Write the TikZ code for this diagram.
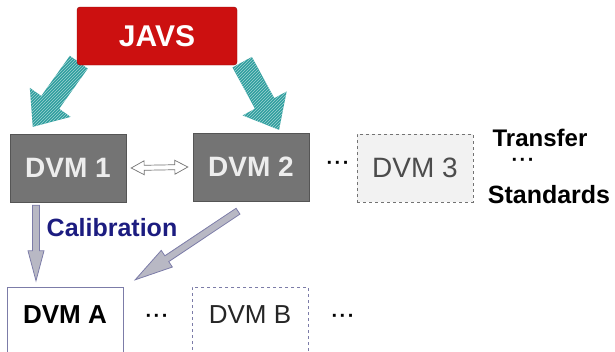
\documentclass[tikz,border=0pt]{standalone}
\usepackage{fontspec}
\setmainfont{Liberation Sans}
\usepackage{xcolor}
\usetikzlibrary{positioning,calc,patterns,backgrounds}

\definecolor{javsred}{HTML}{CC1010}
\definecolor{dvmgray}{HTML}{747474}
\definecolor{dvmedge}{HTML}{555555}
\definecolor{arrowteal}{HTML}{2E9E9E}
\definecolor{calfill}{HTML}{B8B8C4}
\definecolor{caledge}{HTML}{7C7CA8}
\definecolor{calblue}{HTML}{1C1C80}

% fat arrow: [style]{from}{to}{shaft half width}{head half width}{head length}
\newcommand{\fatarrow}[6][]{%
  \coordinate (fa-h) at ($(#3)!#6!(#2)$);
  \path[#1] ($(#2)!#4!90:(#3)$) -- ($(fa-h)!#4!90:(#3)$) -- ($(fa-h)!#5!90:(#3)$) -- (#3)
    -- ($(fa-h)!#5!-90:(#3)$) -- ($(fa-h)!#4!-90:(#3)$) -- ($(#2)!#4!-90:(#3)$) -- cycle;
}
% fat arrow with two heads
\newcommand{\fatdblarrow}[6][]{%
  \coordinate (fa-a) at ($(#2)!#6!(#3)$);
  \coordinate (fa-b) at ($(#3)!#6!(#2)$);
  \path[#1] (#2) -- ($(fa-a)!#5!90:(#3)$) -- ($(fa-a)!#4!90:(#3)$) -- ($(fa-b)!#4!90:(#3)$)
    -- ($(fa-b)!#5!90:(#3)$) -- (#3) -- ($(fa-b)!#5!-90:(#3)$) -- ($(fa-b)!#4!-90:(#3)$)
    -- ($(fa-a)!#4!-90:(#3)$) -- ($(fa-a)!#5!-90:(#3)$) -- cycle;
}
\newcommand{\mdots}{\char"00B7\kern1.5pt\char"00B7\kern1.5pt\char"00B7}

\tikzset{
  dvmbox/.style={minimum width=116pt, minimum height=68pt, inner sep=0pt},
  boldtext/.style={font=\fontsize{#1}{#1}\selectfont\bfseries},
  plaintext/.style={font=\fontsize{#1}{#1}\selectfont},
  dotstext/.style={font=\fontsize{20}{20}\selectfont\bfseries, inner sep=0pt},
  tealarrow/.style={preaction={fill=arrowteal}, pattern=north east lines, pattern color=white!55!arrowteal},
  calarrow/.style={fill=calfill, draw=caledge, line width=0.8pt, line join=miter},
}

\begin{document}
\begin{tikzpicture}[x=1pt, y=-1pt]
\useasboundingbox (0,0) rectangle (615,351);

% JAVS
\node[draw=javsred!70!black, fill=javsred, rounded corners=3pt, minimum width=160pt, minimum height=58pt, text=white, boldtext=30] (javs) at (157,36) {JAVS};

% Transfer standards
\node[dvmbox, draw=dvmedge, fill=dvmgray, text=white!93!black, boldtext=28] (dvm1) at (68,168) {DVM 1};
\node[dvmbox, draw=dvmedge, fill=dvmgray, text=white!93!black, boldtext=28] (dvm2) at (251,167) {DVM 2};
\node[dotstext] (dots1) at (338,165) {\mdots};
\node[dvmbox, draw=black!55, dashed, fill=black!5, text=black!70, plaintext=28] (dvm3) at (415,168) {DVM 3};
\node[boldtext=24] (transfer) at (540,138) {Transfer};
\node[dotstext] (tdots) at (523,162) {\mdots};
\node[boldtext=25] (standards) at (549,195) {Standards};

% Calibrated DVMs
\node[dvmbox, draw=caledge, fill=white, boldtext=26, text depth=12pt] (dvmA) at (65,321) {DVM A};
\node[dotstext] (dotsA) at (157,318) {\mdots};
\node[dvmbox, draw=caledge, dashed, fill=white, text=black!85, plaintext=26, text depth=12pt] (dvmB) at (250,321) {DVM B};
\node[dotstext] (dotsB) at (343,318) {\mdots};

\node[text=calblue, boldtext=25] (calib) at (112,228) {Calibration};

% Arrows
\coordinate (j1) at ([xshift=2pt, yshift=3pt]javs.south west);
\coordinate (t1) at ([xshift=23pt, yshift=7pt]dvm1.north west);
\coordinate (j2) at ([xshift=5pt, yshift=3pt]javs.south east);
\coordinate (t2) at ([xshift=28pt, yshift=3pt]dvm2.north);
\begin{scope}[on background layer]
\fatarrow[tealarrow]{j1}{t1}{11pt}{25pt}{30pt}
\fatarrow[tealarrow]{j2}{t2}{11pt}{25pt}{30pt}
\end{scope}

\coordinate (l1) at ([xshift=5pt]dvm1.east);
\coordinate (l2) at ([xshift=-5pt]dvm2.west);
\fatdblarrow[fill=white, draw=black!55, line width=0.7pt]{l1}{l2}{2.5pt}{7pt}{13pt}

\coordinate (c1) at ([xshift=-32pt, yshift=-3pt]dvm1.south);
\coordinate (c2) at ([xshift=-29pt, yshift=6pt]dvmA.north);
\fatarrow[calarrow]{c1}{c2}{3.5pt}{8pt}{30pt}

\coordinate (d1) at ([xshift=-13pt, yshift=-10pt]dvm2.south);
\coordinate (d2) at ([xshift=12pt, yshift=7pt]dvmA.north east);
\fatarrow[calarrow]{d1}{d2}{3.5pt}{10pt}{38pt}
\end{tikzpicture}
\end{document}
